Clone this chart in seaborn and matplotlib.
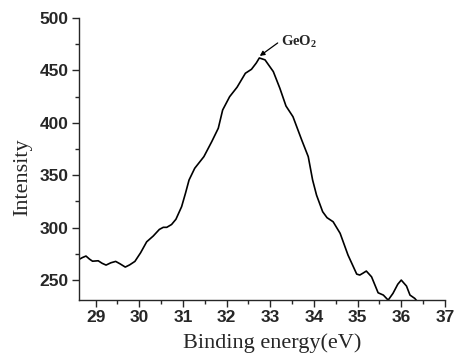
import numpy as np
import pandas as pd
import matplotlib
matplotlib.use("Agg")
import matplotlib.pyplot as plt
from matplotlib.ticker import MultipleLocator
import seaborn as sns

sns.set_style("ticks")
plt.rcParams["mathtext.fontset"] = "custom"
plt.rcParams["mathtext.rm"] = "Liberation Serif"
plt.rcParams["mathtext.bf"] = "Liberation Serif:bold"

# binding energy (eV) and intensity
energy = [28.62, 28.70, 28.78, 28.86, 28.93, 29.06, 29.15, 29.24, 29.35, 29.46,
          29.56, 29.68, 29.78, 29.90, 30.03, 30.17, 30.32, 30.46, 30.55, 30.63,
          30.74, 30.84, 30.97, 31.06, 31.14, 31.27, 31.48, 31.66, 31.81, 31.91,
          32.07, 32.24, 32.43, 32.57, 32.68, 32.75, 32.88, 33.07, 33.22, 33.36,
          33.52, 33.72, 33.87, 33.97, 34.06, 34.20, 34.30, 34.44, 34.60, 34.78,
          34.98, 35.05, 35.12, 35.20, 35.32, 35.47, 35.59, 35.70, 35.81, 35.92,
          36.00, 36.12, 36.20, 36.31, 36.40]
intensity = [269.7, 271.5, 272.9, 270.0, 268.0, 268.4, 266.0, 264.3, 266.5, 267.8,
             265.5, 262.4, 264.5, 267.8, 276.0, 286.5, 292.0, 298.3, 300.3, 300.3,
             303.0, 308.0, 320.0, 333.0, 345.4, 356.6, 367.7, 382.0, 394.8, 412.2,
             424.9, 433.9, 447.2, 451.0, 457.0, 461.8, 460.0, 448.8, 432.9, 416.0,
             405.8, 383.6, 367.7, 345.4, 331.0, 315.2, 309.5, 305.6, 294.6, 273.9,
             255.7, 254.8, 256.5, 258.6, 253.1, 237.9, 235.7, 230.9, 237.3, 246.0,
             250.0, 244.3, 235.7, 232.5, 228.0]

df = pd.DataFrame({"energy": energy, "intensity": intensity})

fig = plt.figure(figsize=(4.54, 3.58), dpi=100)
ax = fig.add_axes([0.174, 0.162, 0.806, 0.788])

sns.lineplot(data=df, x="energy", y="intensity", color="black", linewidth=1.2, ax=ax)

ax.set_xlim(28.62, 37)
ax.set_ylim(231, 500)
ax.xaxis.set_major_locator(MultipleLocator(1))
ax.xaxis.set_minor_locator(MultipleLocator(0.5))
ax.yaxis.set_major_locator(MultipleLocator(50))
ax.yaxis.set_minor_locator(MultipleLocator(25))
ax.tick_params(which="major", length=5, width=1, direction="out", pad=2.5)
ax.tick_params(which="minor", length=3, width=1, direction="out")
for lab in ax.get_xticklabels() + ax.get_yticklabels():
    lab.set_fontfamily("Liberation Sans")
    lab.set_fontweight("bold")
    lab.set_fontsize(12.5)

sns.despine(ax=ax)
for s in ("left", "bottom"):
    ax.spines[s].set_linewidth(1)

ax.set_xlabel("Binding energy(eV)", family="Liberation Serif", fontsize=16)
ax.set_ylabel("Intensity", family="Liberation Serif", fontsize=16)
ax.xaxis.set_label_coords(0.529, -0.117)
ax.yaxis.set_label_coords(-0.128, 0.434)

ax.annotate("", xy=(32.76, 463.7), xytext=(33.17, 476.1),
            arrowprops=dict(arrowstyle="-|>", color="black", lw=0.9,
                            mutation_scale=7, shrinkA=0, shrinkB=0))
ax.text(33.25, 473.5, "GeO$_\\mathbf{2}$", family="Liberation Serif",
        fontweight="bold", fontsize=10.5, va="baseline")

fig.savefig("out.png", dpi=100)
